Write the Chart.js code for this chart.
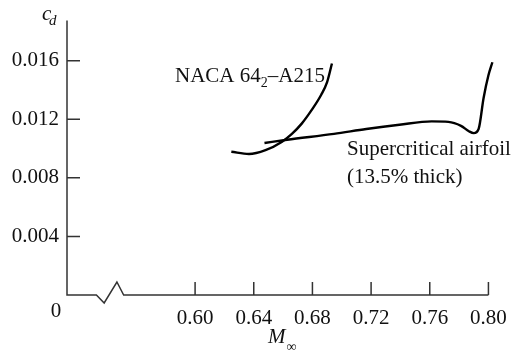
<!DOCTYPE html>
<html lang="en">
<head>
    <meta charset="UTF-8">
    <title>Drag coefficient vs Mach number</title>
    <script src="https://cdn.jsdelivr.net/npm/chart.js"></script>
    <style>
        body { margin: 0; background: #fff; }
        #wrap { width: 518px; height: 357px; }
    </style>
</head>
<body>
    <div id="wrap"><canvas id="cdChart" width="518" height="357"></canvas></div>

    <script>
        // tick values
        const xTicks = [0.60, 0.64, 0.68, 0.72, 0.76, 0.80];
        const yTicks = [0.004, 0.008, 0.012, 0.016];

        // NACA 64(2)-A215
        const nacaMach = [0.6247, 0.6367, 0.648, 0.6593, 0.666, 0.6727, 0.6793, 0.686, 0.690, 0.6933];
        const nacaCd   = [0.00978, 0.00963, 0.00989, 0.01047, 0.0110, 0.0117, 0.0126, 0.01367, 0.01453, 0.0158];

        // supercritical airfoil, 13.5% thick
        const superMach = [0.6473, 0.6627, 0.6947, 0.7167, 0.7393, 0.7613, 0.7727, 0.7813, 0.7867, 0.790, 0.7933, 0.7967, 0.800, 0.8027];
        const superCd   = [0.01038, 0.0106, 0.0110, 0.01133, 0.01162, 0.01185, 0.01182, 0.01155, 0.01118, 0.01105, 0.01133, 0.01345, 0.0150, 0.01589];

        const serif = "'Liberation Serif', 'Times New Roman', serif";
        const ink = '#111';

        // axes with the break, inward ticks and the text labels
        const bookAxes = {
            id: 'bookAxes',
            afterDraw(chart) {
                const ctx = chart.ctx;
                const xs = chart.scales.x, ys = chart.scales.y;
                const x0 = xs.getPixelForValue(xs.min);
                const y0 = ys.getPixelForValue(0);
                const yTop = ys.getPixelForValue(ys.max);
                const px = v => xs.getPixelForValue(v);

                ctx.save();
                ctx.strokeStyle = '#333';
                ctx.lineWidth = 1.5;
                ctx.lineJoin = 'miter';

                // y axis
                ctx.beginPath();
                ctx.moveTo(x0, yTop);
                ctx.lineTo(x0, y0);
                // x axis with break mark
                ctx.lineTo(px(0.5327), y0);
                ctx.lineTo(px(0.538), y0 + 8);
                ctx.lineTo(px(0.5467), y0 - 13);
                ctx.lineTo(px(0.5513), y0);
                ctx.lineTo(px(0.80), y0);
                ctx.stroke();

                // tick marks pointing inward
                ctx.beginPath();
                yTicks.forEach(v => {
                    const p = ys.getPixelForValue(v);
                    ctx.moveTo(x0, p);
                    ctx.lineTo(x0 + 13, p);
                });
                xTicks.forEach(v => {
                    const p = px(v);
                    ctx.moveTo(p, y0);
                    ctx.lineTo(p, y0 - 13);
                });
                ctx.stroke();

                ctx.fillStyle = ink;
                ctx.textBaseline = 'alphabetic';

                // origin
                ctx.textAlign = 'center';
                ctx.font = '21px ' + serif;
                ctx.fillText('0', 56, 317);

                // axis titles
                ctx.textAlign = 'left';
                ctx.font = 'italic 21px ' + serif;
                ctx.fillText('c', 42, 20);
                ctx.font = 'italic 15px ' + serif;
                ctx.fillText('d', 49, 25);

                ctx.font = 'italic 21px ' + serif;
                ctx.fillText('M', 268, 343);
                const mw = ctx.measureText('M').width;
                ctx.font = '14px ' + serif;
                ctx.fillText('\u221E', 268 + mw + 1, 351);

                // curve labels
                ctx.font = '21px ' + serif;
                let tx = 175;
                ctx.fillText('NACA 64', tx, 82);
                tx += ctx.measureText('NACA 64').width;
                ctx.font = '14px ' + serif;
                ctx.fillText('2', tx, 87);
                tx += ctx.measureText('2').width;
                ctx.font = '21px ' + serif;
                ctx.fillText('\u2013A215', tx, 82);

                ctx.fillText('Supercritical airfoil', 347, 155);
                ctx.fillText('(13.5% thick)', 347, 183);
                ctx.restore();
            }
        };

        const ctx = document.getElementById('cdChart').getContext('2d');
        const cdChart = new Chart(ctx, {
            type: 'line',
            data: {
                datasets: [{
                    label: 'NACA 64-A215',
                    data: nacaMach.map((m, i) => ({ x: m, y: nacaCd[i] })),
                    borderColor: '#000',
                    borderWidth: 2.4,
                    pointRadius: 0,
                    cubicInterpolationMode: 'monotone',
                    fill: false
                }, {
                    label: 'Supercritical airfoil',
                    data: superMach.map((m, i) => ({ x: m, y: superCd[i] })),
                    borderColor: '#000',
                    borderWidth: 2.4,
                    pointRadius: 0,
                    cubicInterpolationMode: 'monotone',
                    fill: false
                }]
            },
            options: {
                responsive: false,
                animation: false,
                layout: { padding: { top: 14, right: 14, left: 0, bottom: 0 } },
                plugins: {
                    legend: { display: false },
                    tooltip: { enabled: false }
                },
                scales: {
                    x: {
                        type: 'linear',
                        min: 0.60 - 131 / 1500,
                        max: 0.804,
                        afterBuildTicks: s => { s.ticks = xTicks.map(v => ({ value: v })); },
                        afterFit: s => { s.height = 62; },
                        grid: { display: false, drawTicks: false },
                        border: { display: false },
                        ticks: {
                            autoSkip: false,
                            maxRotation: 0,
                            padding: 11,
                            color: ink,
                            font: { family: serif, size: 21 },
                            callback: v => v.toFixed(2)
                        }
                    },
                    y: {
                        type: 'linear',
                        min: 0,
                        max: 281 / 15000,
                        afterBuildTicks: s => { s.ticks = yTicks.map(v => ({ value: v })); },
                        afterFit: s => { s.width = 67; },
                        grid: { display: false, drawTicks: false },
                        border: { display: false },
                        ticks: {
                            padding: 8,
                            color: ink,
                            font: { family: serif, size: 21 },
                            callback: v => v.toFixed(3)
                        }
                    }
                }
            },
            plugins: [bookAxes]
        });
    </script>
</body>
</html>
